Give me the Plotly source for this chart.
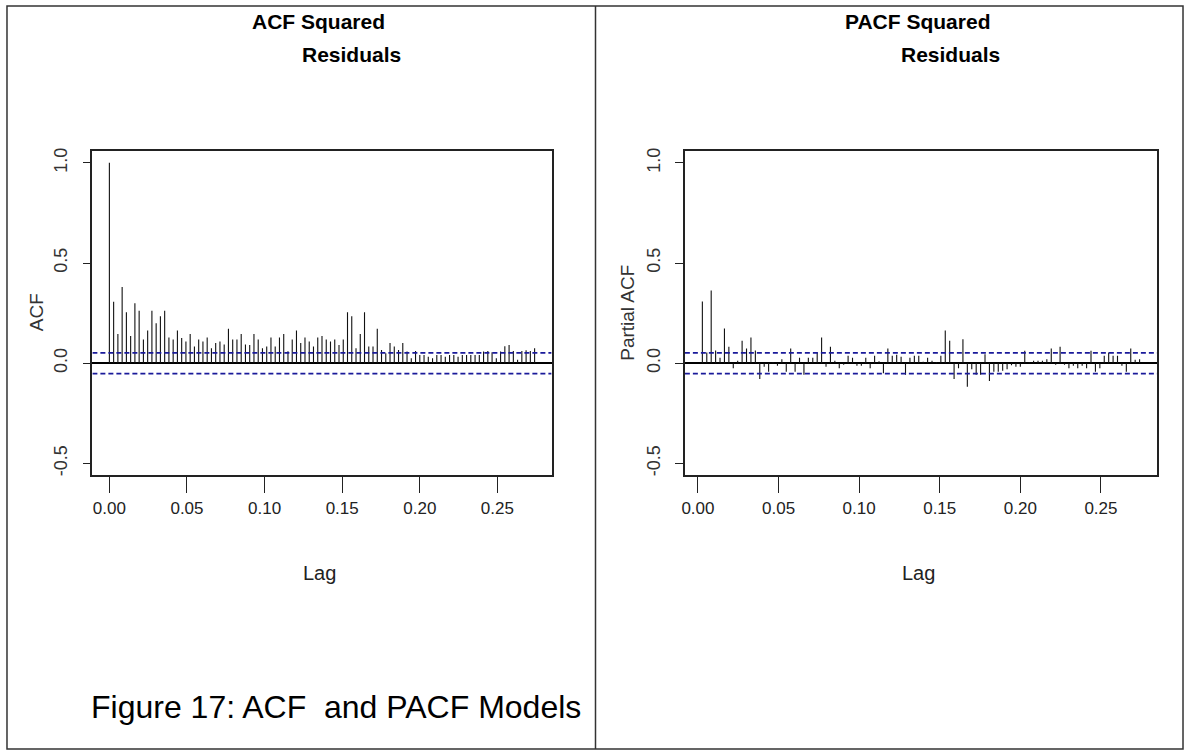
import plotly.graph_objects as go

# ---------------- data ----------------
FREQ = 365  # lag unit (daily series)
acf_lags = list(range(0, 101))
acf_vals = [1.0, 0.307, 0.146, 0.381, 0.254, 0.136, 0.299, 0.262, 0.119, 0.163,
            0.262, 0.199, 0.235, 0.262, 0.128, 0.118, 0.163, 0.126, 0.109, 0.146,
            0.083, 0.118, 0.109, 0.128, 0.075, 0.101, 0.109, 0.093, 0.172, 0.118,
            0.118, 0.146, 0.093, 0.091, 0.146, 0.118, 0.075, 0.083, 0.128, 0.083,
            0.128, 0.146, 0.060, 0.118, 0.163, 0.101, 0.128, 0.109, 0.083, 0.128,
            0.136, 0.118, 0.109, 0.118, 0.091, 0.118, 0.254, 0.235, 0.075, 0.146,
            0.254, 0.083, 0.083, 0.172, 0.066, 0.050, 0.101, 0.083, 0.066, 0.101,
            0.058, 0.025, 0.061, 0.041, 0.041, 0.033, 0.025, 0.041, 0.041, 0.033,
            0.041, 0.041, 0.033, 0.041, 0.041, 0.041, 0.041, 0.041, 0.058, 0.061,
            0.055, 0.025, 0.058, 0.085, 0.091, 0.061, 0.017, 0.061, 0.065, 0.061,
            0.075]
pacf_lags = list(range(1, 101))
pacf_vals = [0.308, 0.053, 0.363, 0.063, 0.028, 0.173, 0.082, -0.025, 0.012, 0.112,
             0.073, 0.128, 0.063, -0.078, -0.017, -0.042, 0.005, -0.012, 0.020, -0.042,
             0.073, -0.042, 0.028, -0.058, 0.028, 0.028, 0.053, 0.128, -0.017, 0.082,
             0.012, -0.025, -0.008, 0.037, 0.028, -0.012, -0.012, 0.028, -0.025, 0.037,
             0.010, -0.050, 0.073, 0.037, 0.042, 0.033, -0.058, 0.028, 0.037, 0.037,
             0.008, 0.028, 0.012, 0.005, 0.037, 0.163, 0.112, -0.078, -0.025, 0.120,
             -0.117, -0.030, -0.058, -0.058, 0.045, -0.088, -0.042, -0.042, -0.038, -0.030,
             -0.010, -0.017, -0.017, 0.062, 0.005, 0.012, 0.012, 0.012, 0.020, 0.073,
             -0.008, 0.082, -0.008, -0.025, -0.012, -0.025, -0.012, -0.025, 0.062, -0.042,
             -0.025, 0.037, 0.053, 0.037, 0.037, -0.012, -0.042, 0.073, 0.017, 0.020]
conf_limit = 0.052
x_ticks = [0.0, 0.05, 0.10, 0.15, 0.20, 0.25]
x_tick_text = ["0.00", "0.05", "0.10", "0.15", "0.20", "0.25"]
y_ticks = [-0.5, 0.0, 0.5, 1.0]
y_tick_text = ["-0.5", "0.0", "0.5", "1.0"]
titles = ["ACF Squared", "PACF Squared"]
subtitles = ["Residuals", "Residuals"]
ylabels = ["ACF", "Partial ACF"]
caption = "Figure 17: ACF  and PACF Models"

# ---------------- layout helpers ----------------
W, H = 1186, 752
SANS = "Liberation Sans, Arial, sans-serif"


def px_x(p):
    return p / W


def px_y(p):
    return 1 - p / H


def spikes(lags, vals):
    xs, ys = [], []
    for l, v in zip(lags, vals):
        xs += [l / FREQ, l / FREQ, None]
        ys += [0, v, None]
    return xs, ys


fig = go.Figure()

xa, ya = spikes(acf_lags, acf_vals)
fig.add_trace(go.Scatter(x=xa, y=ya, mode="lines", line=dict(color="#111", width=1.1),
                         hoverinfo="skip", showlegend=False, xaxis="x", yaxis="y"))
xp, yp = spikes(pacf_lags, pacf_vals)
fig.add_trace(go.Scatter(x=xp, y=yp, mode="lines", line=dict(color="#111", width=1.1),
                         hoverinfo="skip", showlegend=False, xaxis="x2", yaxis="y2"))

# x ranges (R style 4% extension)
acf_lo, acf_hi = min(acf_lags) / FREQ, max(acf_lags) / FREQ
pacf_lo, pacf_hi = min(pacf_lags) / FREQ, max(pacf_lags) / FREQ
acf_range = [acf_lo - 0.04 * (acf_hi - acf_lo), acf_hi + 0.04 * (acf_hi - acf_lo)]
pacf_range = [pacf_lo - 0.04 * (pacf_hi - pacf_lo), pacf_hi + 0.04 * (pacf_hi - pacf_lo)]
y_range = [-0.56, 1.06]

# confidence limits
for xref, rng in (("x", acf_range), ("x2", pacf_range)):
    yref = "y" if xref == "x" else "y2"
    for s in (1, -1):
        fig.add_trace(go.Scatter(x=rng, y=[s * conf_limit] * 2, mode="lines",
                                 line=dict(color="#1a1a9a", width=1.8, dash="5px,3px"),
                                 hoverinfo="skip", showlegend=False,
                                 xaxis=xref, yaxis=yref))

y_dom = [px_y(475), px_y(148.6)]
common_x = dict(tickvals=x_ticks, ticktext=x_tick_text, ticks="outside", ticklen=16,
                tickcolor="#222", tickwidth=1, showline=True, linecolor="#222",
                linewidth=1.6, mirror=True, showgrid=False, zeroline=False,
                tickfont=dict(family=SANS, size=17, color="#222"))
common_y = dict(tickvals=y_ticks, ticktext=y_tick_text, ticks="outside", ticklen=8,
                tickcolor="#222", tickwidth=1, showline=True, linecolor="#222",
                linewidth=1.6, mirror=True, showgrid=False, zeroline=True,
                zerolinecolor="black", zerolinewidth=1.5, tickangle=-90,
                ticklabelstandoff=8,
                tickfont=dict(family=SANS, size=18, color="#333"), range=y_range,
                domain=y_dom)

fig.update_layout(
    width=W, height=H, margin=dict(l=0, r=0, t=0, b=0),
    paper_bgcolor="white", plot_bgcolor="white",
    xaxis=dict(domain=[px_x(89.6), px_x(550)], range=acf_range, anchor="y", **common_x),
    yaxis=dict(anchor="x", **common_y),
    xaxis2=dict(domain=[px_x(683.6), px_x(1157)], range=pacf_range, anchor="y2", **common_x),
    yaxis2=dict(anchor="x2", **common_y),
)

ann = []
centers = [(89.6 + 550) / 2, (683.6 + 1157) / 2]
for i in range(2):
    c = centers[i]
    ann.append(dict(text="<b>%s</b>" % titles[i], x=px_x(c - 3), y=px_y(19), xref="paper",
                    yref="paper", showarrow=False, xanchor="center", yanchor="middle",
                    font=dict(family=SANS, size=21, color="black")))
    ann.append(dict(text="<b>%s</b>" % subtitles[i], x=px_x(c + 30), y=px_y(52),
                    xref="paper", yref="paper", showarrow=False, xanchor="center",
                    yanchor="middle", font=dict(family=SANS, size=21, color="black")))
    ann.append(dict(text="Lag", x=px_x(c - 2), y=px_y(573), xref="paper", yref="paper",
                    showarrow=False, xanchor="center", yanchor="middle",
                    font=dict(family=SANS, size=20, color="#222")))
ann.append(dict(text=ylabels[0], x=px_x(33), y=px_y(311), xref="paper", yref="paper",
                showarrow=False, textangle=-90, xanchor="center", yanchor="middle",
                font=dict(family=SANS, size=19, color="#333")))
ann.append(dict(text=ylabels[1], x=px_x(626), y=px_y(311), xref="paper", yref="paper",
                showarrow=False, textangle=-90, xanchor="center", yanchor="middle",
                font=dict(family=SANS, size=19, color="#333")))
ann.append(dict(text=caption, x=px_x(86), y=px_y(708), xref="paper", yref="paper",
                showarrow=False, xanchor="left", yanchor="middle",
                font=dict(family=SANS, size=32, color="black")))
fig.update_layout(annotations=ann)

# outer table frame
fig.add_shape(type="rect", xref="paper", yref="paper", x0=px_x(4), x1=px_x(1183),
              y0=px_y(750), y1=px_y(3), line=dict(color="#333", width=1.5))
fig.add_shape(type="line", xref="paper", yref="paper", x0=px_x(594), x1=px_x(594),
              y0=px_y(750), y1=px_y(3), line=dict(color="#333", width=1.5))

fig.write_html("out.html")
